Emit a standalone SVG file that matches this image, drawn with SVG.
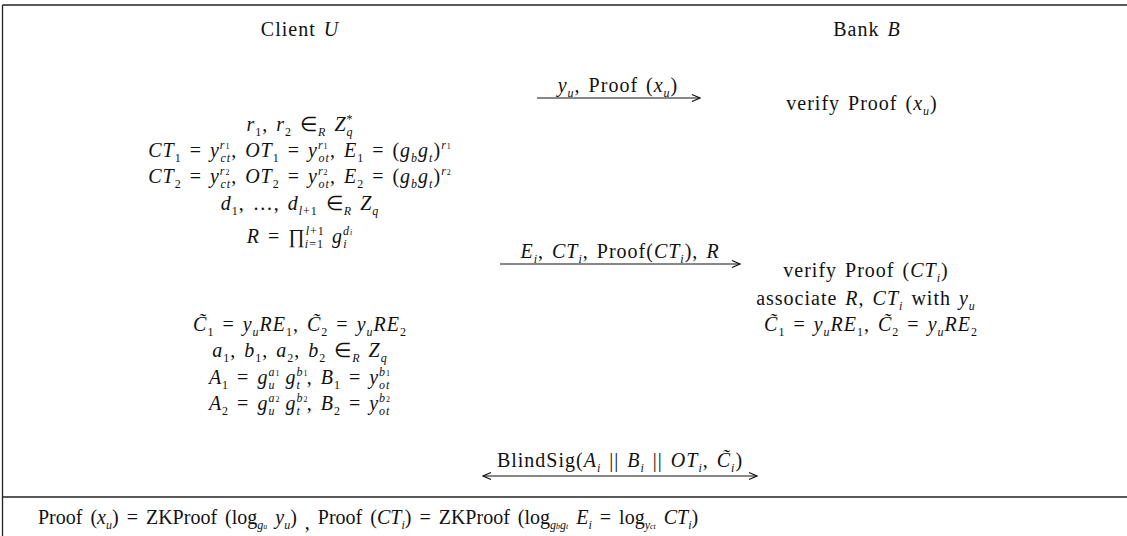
<svg xmlns="http://www.w3.org/2000/svg" width="1127" height="536" viewBox="0 0 1127 536">
<style>
text{font-family:"Liberation Serif","Times New Roman",serif;font-size:20px;letter-spacing:1px;word-spacing:2px;fill:#111;}
.c{text-anchor:middle}
.i{font-style:italic}
.b{font-size:12px;baseline-shift:-5px}
.p{font-size:12px;baseline-shift:8px}
.s{font-size:8px}
.foot{letter-spacing:0;word-spacing:3px}
.frame{stroke:#222;stroke-width:1.3;fill:none}
.arr{stroke:#111;stroke-width:1.2;fill:none}
</style>
<defs>
<marker id="ah" viewBox="0 0 10 10" refX="9" refY="5" markerWidth="10" markerHeight="10" markerUnits="userSpaceOnUse" orient="auto-start-reverse">
<path d="M1,1.5 L9,5 L1,8.5" fill="none" stroke="#111" stroke-width="1.2"/>
</marker>
</defs>
<rect width="1127" height="536" fill="#fff"/>
<g id="frame">
<line class="frame" x1="2.5" y1="5" x2="1127" y2="5"/>
<line class="frame" x1="2.5" y1="5" x2="2.5" y2="536"/>
<line class="frame" x1="2.5" y1="497" x2="1127" y2="497"/>
</g>
<g id="client">
<text class="c" x="300" y="36" word-spacing="8">Client <tspan class="i">U</tspan></text>
<text class="c" x="300" y="131"><tspan class="i">r</tspan><tspan class="b">1</tspan>, <tspan class="i">r</tspan><tspan class="b">2</tspan> ∈<tspan class="b i">R</tspan> <tspan class="i">Z</tspan><tspan class="p">*</tspan><tspan class="b i" dx="-7">q</tspan></text>
<text class="c" x="300" y="157"><tspan class="i">CT</tspan><tspan class="b">1</tspan> = <tspan class="i">y</tspan><tspan class="p i">r</tspan><tspan class="p s">1</tspan><tspan class="b i" dx="-10">ct</tspan>, <tspan class="i">OT</tspan><tspan class="b">1</tspan> = <tspan class="i">y</tspan><tspan class="p i">r</tspan><tspan class="p s">1</tspan><tspan class="b i" dx="-10">ot</tspan>, <tspan class="i">E</tspan><tspan class="b">1</tspan> = (<tspan class="i">g</tspan><tspan class="b i">b</tspan><tspan class="i">g</tspan><tspan class="b i">t</tspan>)<tspan class="p i">r</tspan><tspan class="p s">1</tspan></text>
<text class="c" x="300" y="183"><tspan class="i">CT</tspan><tspan class="b">2</tspan> = <tspan class="i">y</tspan><tspan class="p i">r</tspan><tspan class="p s">2</tspan><tspan class="b i" dx="-10">ct</tspan>, <tspan class="i">OT</tspan><tspan class="b">2</tspan> = <tspan class="i">y</tspan><tspan class="p i">r</tspan><tspan class="p s">2</tspan><tspan class="b i" dx="-10">ot</tspan>, <tspan class="i">E</tspan><tspan class="b">2</tspan> = (<tspan class="i">g</tspan><tspan class="b i">b</tspan><tspan class="i">g</tspan><tspan class="b i">t</tspan>)<tspan class="p i">r</tspan><tspan class="p s">2</tspan></text>
<text class="c" x="300" y="210"><tspan class="i">d</tspan><tspan class="b">1</tspan>, …, <tspan class="i">d</tspan><tspan class="b"><tspan class="i">l</tspan>+1</tspan> ∈<tspan class="b i">R</tspan> <tspan class="i">Z</tspan><tspan class="b i">q</tspan></text>
<text class="c" x="300" y="243"><tspan class="i">R</tspan> = ∏<tspan class="p"><tspan class="i">l</tspan>+1</tspan><tspan class="b" dx="-20"><tspan class="i">i</tspan>=1</tspan> <tspan class="i">g</tspan><tspan class="p i">d</tspan><tspan class="p i s">i</tspan><tspan class="b i" dx="-10">i</tspan></text>
<text class="c" x="300" y="331"><tspan class="i">C̃</tspan><tspan class="b">1</tspan> = <tspan class="i">y</tspan><tspan class="b i">u</tspan><tspan class="i">RE</tspan><tspan class="b">1</tspan>, <tspan class="i">C̃</tspan><tspan class="b">2</tspan> = <tspan class="i">y</tspan><tspan class="b i">u</tspan><tspan class="i">RE</tspan><tspan class="b">2</tspan></text>
<text class="c" x="300" y="357"><tspan class="i">a</tspan><tspan class="b">1</tspan>, <tspan class="i">b</tspan><tspan class="b">1</tspan>, <tspan class="i">a</tspan><tspan class="b">2</tspan>, <tspan class="i">b</tspan><tspan class="b">2</tspan> ∈<tspan class="b i">R</tspan> <tspan class="i">Z</tspan><tspan class="b i">q</tspan></text>
<text class="c" x="300" y="384"><tspan class="i">A</tspan><tspan class="b">1</tspan> = <tspan class="i">g</tspan><tspan class="p i">a</tspan><tspan class="p s">1</tspan><tspan class="b i" dx="-12">u</tspan> <tspan class="i" dx="2">g</tspan><tspan class="p i">b</tspan><tspan class="p s">1</tspan><tspan class="b i" dx="-12">t</tspan><tspan dx="6">,</tspan> <tspan class="i">B</tspan><tspan class="b">1</tspan> = <tspan class="i">y</tspan><tspan class="p i">b</tspan><tspan class="p s">1</tspan><tspan class="b i" dx="-12">ot</tspan></text>
<text class="c" x="300" y="410"><tspan class="i">A</tspan><tspan class="b">2</tspan> = <tspan class="i">g</tspan><tspan class="p i">a</tspan><tspan class="p s">2</tspan><tspan class="b i" dx="-12">u</tspan> <tspan class="i" dx="2">g</tspan><tspan class="p i">b</tspan><tspan class="p s">2</tspan><tspan class="b i" dx="-12">t</tspan><tspan dx="6">,</tspan> <tspan class="i">B</tspan><tspan class="b">2</tspan> = <tspan class="i">y</tspan><tspan class="p i">b</tspan><tspan class="p s">2</tspan><tspan class="b i" dx="-12">ot</tspan></text>
</g>
<g id="bank">
<text class="c" x="867" y="36" word-spacing="8">Bank <tspan class="i">B</tspan></text>
<text class="c" x="862" y="110" word-spacing="5">verify Proof (<tspan class="i">x</tspan><tspan class="b i">u</tspan>)</text>
<text class="c" x="866" y="277">verify Proof (<tspan class="i">CT</tspan><tspan class="b i">i</tspan>)</text>
<text class="c" x="866" y="305">associate <tspan class="i">R</tspan>, <tspan class="i">CT</tspan><tspan class="b i">i</tspan> with <tspan class="i">y</tspan><tspan class="b i">u</tspan></text>
<text class="c" x="871" y="331"><tspan class="i">C̃</tspan><tspan class="b">1</tspan> = <tspan class="i">y</tspan><tspan class="b i">u</tspan><tspan class="i">RE</tspan><tspan class="b">1</tspan>, <tspan class="i">C̃</tspan><tspan class="b">2</tspan> = <tspan class="i">y</tspan><tspan class="b i">u</tspan><tspan class="i">RE</tspan><tspan class="b">2</tspan></text>
</g>
<g id="connectors">
<line class="arr" x1="537" y1="98" x2="700" y2="98" marker-end="url(#ah)"/>
<text class="c" x="618" y="92"><tspan class="i">y</tspan><tspan class="b i">u</tspan>, Proof (<tspan class="i">x</tspan><tspan class="b i">u</tspan>)</text>
<line class="arr" x1="500" y1="264" x2="740" y2="264" marker-end="url(#ah)"/>
<text class="c" x="620" y="258"><tspan class="i">E</tspan><tspan class="b i">i</tspan>, <tspan class="i">CT</tspan><tspan class="b i">i</tspan>, Proof(<tspan class="i">CT</tspan><tspan class="b i">i</tspan>), <tspan class="i">R</tspan></text>
<line class="arr" x1="483" y1="476" x2="757" y2="476" marker-start="url(#ah)" marker-end="url(#ah)"/>
<text class="c" x="620" y="467">BlindSig(<tspan class="i">A</tspan><tspan class="b i">i</tspan> || <tspan class="i">B</tspan><tspan class="b i">i</tspan> || <tspan class="i">OT</tspan><tspan class="b i">i</tspan>, <tspan class="i">C̃</tspan><tspan class="b i">i</tspan>)</text>
</g>
<g id="footnote">
<text class="foot" x="38" y="524">Proof (<tspan class="i">x</tspan><tspan class="b i">u</tspan>) = ZKProof (log<tspan class="b i">g<tspan class="s">u</tspan></tspan> <tspan class="i">y</tspan><tspan class="b i">u</tspan>) <tspan baseline-shift="-5">,</tspan>  Proof (<tspan class="i">CT</tspan><tspan class="b i">i</tspan>) = ZKProof (log<tspan class="b i">g<tspan class="s">b</tspan>g<tspan class="s">t</tspan></tspan> <tspan class="i">E</tspan><tspan class="b i">i</tspan> = log<tspan class="b i">y<tspan class="s">ct</tspan></tspan> <tspan class="i">CT</tspan><tspan class="b i">i</tspan>)</text>
</g>
</svg>
